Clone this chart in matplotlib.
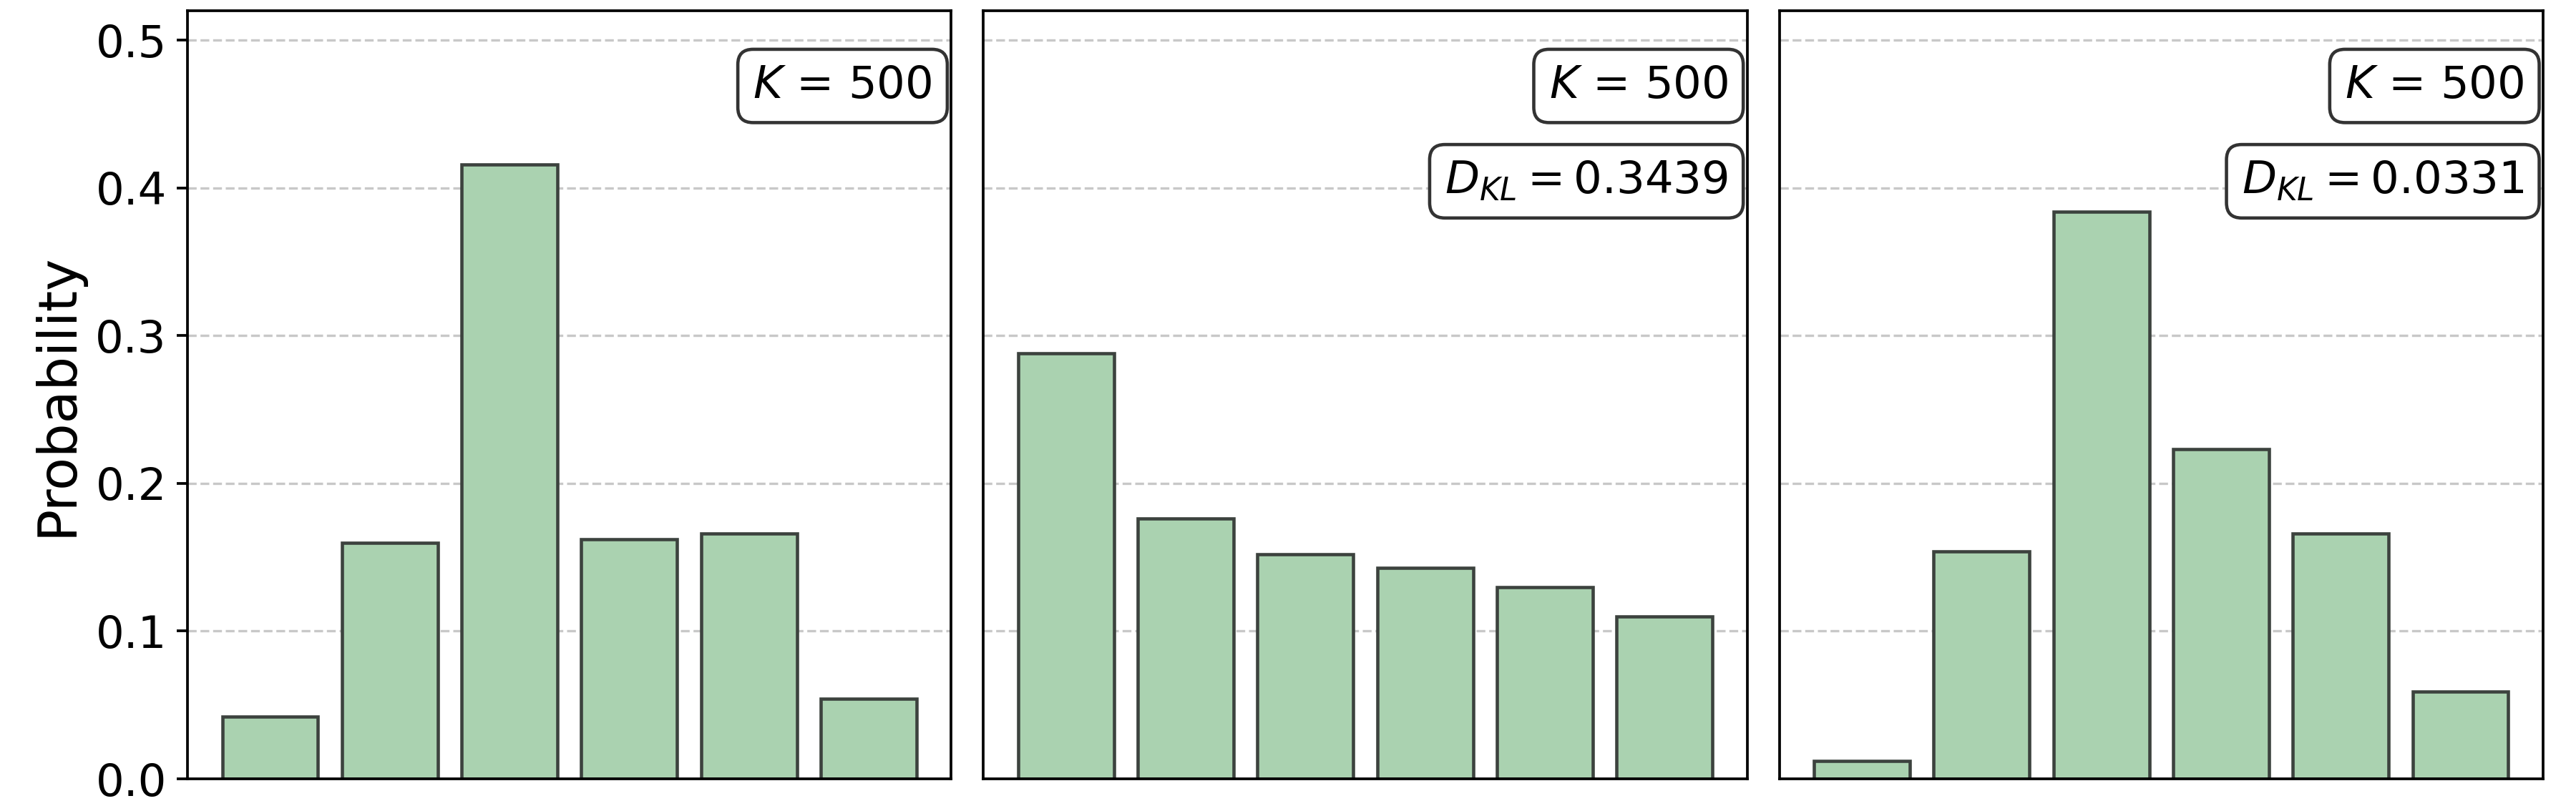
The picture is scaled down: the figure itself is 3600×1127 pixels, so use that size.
import matplotlib
matplotlib.use("Agg")
import matplotlib.pyplot as plt
import numpy as np

# ---- data ----
categories = [0, 1, 2, 3, 4, 5]
probs_left = [0.042, 0.160, 0.416, 0.162, 0.166, 0.054]
probs_mid = [0.288, 0.176, 0.152, 0.143, 0.130, 0.110]
probs_right = [0.012, 0.154, 0.384, 0.223, 0.166, 0.059]
k_labels = ["$K$ = 500", "$K$ = 500", "$K$ = 500"]
kl_labels = [None, "$D_{KL} = 0.3439$", "$D_{KL} = 0.0331$"]
yticks = [0.0, 0.1, 0.2, 0.3, 0.4, 0.5]

series = [probs_left, probs_mid, probs_right]

fig, axes = plt.subplots(1, 3, figsize=(12, 1127 / 300), dpi=300, sharey=True)
fig.subplots_adjust(left=262 / 3600, right=3554 / 3600, bottom=38 / 1127,
                    top=1 - 15 / 1127, wspace=0.0422)

bar_color = "#aad2b0"
edge_color = "#3c423e"
box_props = dict(boxstyle="round,pad=0.34", facecolor="white", edgecolor="#333333", linewidth=1.1)

for i, ax in enumerate(axes):
    ax.bar(categories, series[i], width=0.8, color=bar_color, edgecolor=edge_color, linewidth=1.1)
    ax.set_axisbelow(True)
    ax.grid(axis="y", linestyle="--", color="#c8c8c8", linewidth=0.8)
    ax.set_ylim(0, 0.52)
    ax.set_yticks(yticks)
    ax.set_xticks([])
    for s in ax.spines.values():
        s.set_linewidth(0.9)
        s.set_color("black")
    ax.tick_params(axis="y", labelsize=15, length=3.5, width=0.9)
    if i > 0:
        ax.tick_params(axis="y", left=False, labelleft=False)
    ax.text(0.975, 0.93, k_labels[i], transform=ax.transAxes, ha="right", va="top",
            fontsize=15, bbox=box_props)
    if kl_labels[i] is not None:
        ax.text(0.975, 0.806, kl_labels[i], transform=ax.transAxes, ha="right", va="top",
                fontsize=15, bbox=box_props)

axes[0].set_ylabel("Probability", fontsize=18)

fig.savefig("out.png", dpi=300)
